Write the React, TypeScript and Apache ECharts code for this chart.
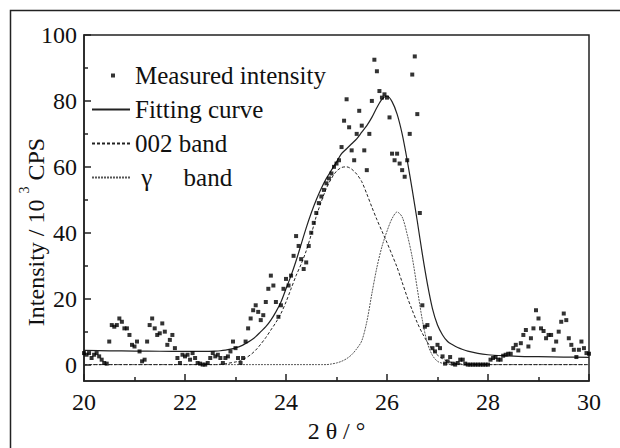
import React, { useEffect, useRef } from "react";
import * as echarts from "echarts";

const FONT = "Liberation Serif";
const INK = "#111";

// Measured intensity, 2θ from 20.00 to 30.00 in steps of 0.05 (one row per degree)
const MEASURED_START = 20;
const MEASURED_STEP = 0.05;
const measuredY = [
  3.5, 3.0, 3.5, 2.0, 3.0, 3.5, 2.5, 1.5, 0.5, 0.3, 7, 12, 11.5, 12, 14, 13, 11, 11, 9, 6,
  5.5, 7, 4, 1, 1.5, 7, 12, 14, 11, 9, 9.5, 12.5, 10, 6, 7.5, 9, 5, 2, 0.5, 3,
  2.5, 3, 1.5, 3.5, 2, 0.5, 0.3, 0, 0, 0.5, 2, 3.5, 2.5, 3, 2, 0.5, 2, 2.5, 4, 7,
  5, 2, 0.5, 2, 7, 11, 14, 16.5, 18, 16, 13.5, 15, 19, 23, 27, 24, 19, 14.5, 18, 23,
  26, 24, 27, 33, 39, 36, 32, 29, 31, 36, 40, 43, 46, 49, 51, 53, 55, 56.5, 58, 60,
  61, 62, 66, 74, 80.5, 72, 65, 62, 70, 77, 72.5, 65, 59, 70, 80, 92.5, 89, 83, 81, 82,
  81, 75, 64, 62, 64, 61, 59, 57, 62, 70, 88, 93.5, 76, 46, 18, 11.5, 12, 8, 5, 4,
  6, 5, 2.5, 0.3, 1, 2.3, 0.3, 0, 0.5, 1.5, 1.5, 0.3, 0, 0, 0, 0, 0, 0, 0, 0,
  0, 1.5, 2, 2.3, 1.5, 1.5, 2.7, 3, 3.3, 3.3, 5, 6, 4.3, 6.5, 9, 10.5, 5.5, 8, 11, 16.5,
  14, 11, 10.2, 8, 9, 9, 4.5, 7, 10, 13, 15.5, 13.5, 8, 6, 4.5, 2.3, 4.5, 7, 5, 3.5,
  3.3,
];

// Fitting curve
const fitX = [
  20, 20.5, 21, 21.5, 22, 22.4, 22.6, 22.7, 22.8, 22.9,
  23.0, 23.1, 23.2, 23.3, 23.4, 23.5, 23.6, 23.7, 23.8, 23.9,
  24.0, 24.1, 24.2, 24.3, 24.4, 24.5, 24.6, 24.7, 24.8, 24.9,
  25.0, 25.1, 25.2, 25.3, 25.4, 25.5, 25.6, 25.7, 25.8, 25.9,
  26.0, 26.1, 26.2, 26.3, 26.4, 26.5, 26.6, 26.7, 26.8, 26.9,
  27.0, 27.1, 27.2, 27.3, 27.4, 27.5, 27.6, 27.8, 28.0, 28.3,
  28.6, 29.0, 29.5, 30.0,
];
const fitY = [
  4.3, 4.2, 4.1, 4.05, 4.0, 4.0, 4.1, 4.2, 4.4, 4.7,
  5.1, 5.6, 6.4, 7.3, 8.5, 10, 11.5, 13.5, 16, 19,
  23, 27, 31.5, 36.5, 41.5, 46, 50, 53.5, 56.5, 59,
  61.5, 64, 65.5, 67, 68.5, 70.5, 72.5, 75, 78, 80.5,
  81.5, 79.8, 76, 70, 62, 53, 43.5, 33.5, 24.5, 17,
  12, 9, 7, 6, 5.2, 4.6, 4.1, 3.4, 3.0, 2.7,
  2.5, 2.4, 2.3, 2.2,
];

// Deconvoluted bands
const bandX = [
  20, 21, 22, 22.6, 22.8, 23.0,
  23.1, 23.2, 23.3, 23.4, 23.5, 23.6, 23.7, 23.8, 23.9, 24.0,
  24.1, 24.2, 24.3, 24.4, 24.5, 24.6, 24.7, 24.8, 24.9, 25.0,
  25.1, 25.2, 25.3, 25.4, 25.5, 25.6, 25.7, 25.8, 25.9, 26.0,
  26.1, 26.2, 26.3, 26.4, 26.5, 26.6, 26.7, 26.8, 26.9, 27.0,
  27.1, 27.2, 27.4, 27.6, 28, 29, 30,
];
const band002 = [
  0, 0, 0, 0, 0.3, 0.8,
  1.2, 2, 3, 4.4, 6.2, 8.2, 10.5, 12.8, 15.5, 19,
  23, 27, 30.5, 34.5, 39.5, 45, 49.5, 53.5, 56.5, 58.7,
  59.8, 60, 59.3, 57.8, 55.5, 51.8, 47.8, 44, 40.5, 37,
  33.3, 29.5, 25, 20.5, 16.5, 12.7, 9.5, 6.8, 4.6, 2.9,
  1.8, 1.0, 0.3, 0, 0, 0, 0,
];
const bandGamma = [
  0, 0, 0, 0, 0, 0,
  0, 0, 0, 0, 0, 0, 0, 0, 0, 0,
  0, 0, 0, 0, 0, 0, 0, 0, 0.2, 0.5,
  1, 1.8, 3, 4.8, 7.2, 13, 21.5, 29.5, 35.8, 40.5,
  44.3, 46.3, 44.8, 39.5, 32.5, 23, 13.5, 6.5, 2.8, 1,
  0.4, 0.1, 0, 0, 0, 0, 0,
];

const yLabelValues = [0, 20, 40, 60, 80, 100];
const yMinorTickValues = [10, 30, 50, 70, 90];

const NAME_MEASURED = "Measured intensity";
const NAME_FIT = "Fitting curve";
const NAME_002 = "002 band";
const NAME_GAMMA = "\u00A0\u03B3\u00A0\u00A0\u00A0\u00A0\u00A0band";

export default function App() {
  const ref = useRef<HTMLDivElement>(null);

  useEffect(() => {
    if (!ref.current) return;
    const chart = echarts.init(ref.current, null, { renderer: "svg" });

    const measured = measuredY.map((v, i) => [
      +(MEASURED_START + i * MEASURED_STEP).toFixed(2),
      v,
    ]);
    const fit = fitX.map((x, i) => [x, fitY[i]]);
    const b002 = bandX.map((x, i) => [x, band002[i]]);
    const bGamma = bandX.map((x, i) => [x, bandGamma[i]]);

    const axisLineStyle = { color: "#222", width: 1.5 };
    const textBase = { fontFamily: FONT, fontSize: 24, color: INK };
    const hiddenSymbol = { opacity: 0 };

    chart.setOption({
      animation: false,
      backgroundColor: "#fff",
      grid: {
        left: 84,
        right: 31,
        top: 35,
        bottom: 61,
        show: true,
        borderColor: "#222",
        borderWidth: 1.5,
        backgroundColor: "transparent",
      },
      legend: {
        orient: "vertical",
        left: 91,
        top: 63,
        padding: 0,
        itemWidth: 38,
        itemHeight: 14,
        itemGap: 9,
        selectedMode: false,
        textStyle: { fontFamily: FONT, fontSize: 25, color: INK },
        data: [
          {
            name: NAME_MEASURED,
            icon: "path://M0,0h0.01v0.01h-0.01z M19,5h4v4h-4z M38,14h-0.01v-0.01h0.01z",
          },
          { name: NAME_FIT, itemStyle: hiddenSymbol },
          { name: NAME_002, itemStyle: hiddenSymbol },
          { name: NAME_GAMMA, itemStyle: hiddenSymbol },
        ],
      },
      xAxis: {
        type: "value",
        min: 20,
        max: 30,
        interval: 2,
        axisLine: { show: true, onZero: false, lineStyle: axisLineStyle },
        axisTick: { show: true, inside: true, length: 7, lineStyle: axisLineStyle },
        minorTick: { show: true, splitNumber: 2, length: 4, lineStyle: axisLineStyle },
        axisLabel: { ...textBase, margin: 9, showMinLabel: true, showMaxLabel: true },
        splitLine: { show: false },
        minorSplitLine: { show: false },
        name: "2 θ / °",
        nameLocation: "middle",
        nameGap: 33,
        nameTextStyle: { ...textBase },
      },
      yAxis: [
        {
          type: "value",
          min: -5,
          max: 100,
          axisLine: { show: true, onZero: false, lineStyle: axisLineStyle },
          axisTick: {
            show: true,
            inside: true,
            length: 7,
            lineStyle: axisLineStyle,
            customValues: yLabelValues,
          },
          axisLabel: { ...textBase, margin: 7, customValues: yLabelValues },
          splitLine: { show: false },
        },
        {
          type: "value",
          min: -5,
          max: 100,
          position: "left",
          axisLine: { show: false },
          axisTick: {
            show: true,
            inside: true,
            length: 4,
            lineStyle: axisLineStyle,
            customValues: yMinorTickValues,
          },
          axisLabel: { show: false },
          splitLine: { show: false },
        },
      ],
      series: [
        {
          name: NAME_MEASURED,
          type: "scatter",
          symbol: "rect",
          symbolSize: 4,
          itemStyle: { color: "#000" },
          data: measured,
          z: 5,
        },
        {
          name: NAME_FIT,
          type: "line",
          symbol: "none",
          smooth: 0.3,
          itemStyle: { color: "#222" },
          lineStyle: { color: "#222", width: 1.2, type: "solid" },
          data: fit,
          z: 3,
        },
        {
          name: NAME_002,
          type: "line",
          symbol: "none",
          smooth: 0.3,
          itemStyle: { color: "#222" },
          lineStyle: { color: "#222", width: 1, type: [3, 2] },
          data: b002,
          z: 3,
        },
        {
          name: NAME_GAMMA,
          type: "line",
          symbol: "none",
          smooth: 0.3,
          itemStyle: { color: "#555" },
          lineStyle: { color: "#555", width: 1, type: [2, 1] },
          data: bGamma,
          z: 2,
        },
      ],
      graphic: [
        {
          type: "polyline",
          silent: true,
          shape: { points: [[10.5, 448], [10.5, 10.5], [620, 10.5]] },
          style: { stroke: "#222", lineWidth: 1.5, fill: "none" },
        },
        {
          type: "text",
          silent: true,
          x: 36,
          y: 232,
          rotation: Math.PI / 2,
          style: {
            text: "{m|Intensity / 10 }{s|3}{m| CPS}",
            align: "center",
            verticalAlign: "middle",
            fill: INK,
            font: `24px ${FONT}`,
            rich: {
              m: { fontFamily: FONT, fontSize: 24, lineHeight: 38, verticalAlign: "middle", fill: INK },
              s: { fontFamily: FONT, fontSize: 14, lineHeight: 14, verticalAlign: "top", fill: INK },
            },
          },
        },
      ],
    });

    return () => chart.dispose();
  }, []);

  return (
    <div
      ref={ref}
      style={{
        position: "fixed",
        left: 0,
        top: 0,
        width: 620,
        height: 448,
        background: "#fff",
      }}
    />
  );
}
